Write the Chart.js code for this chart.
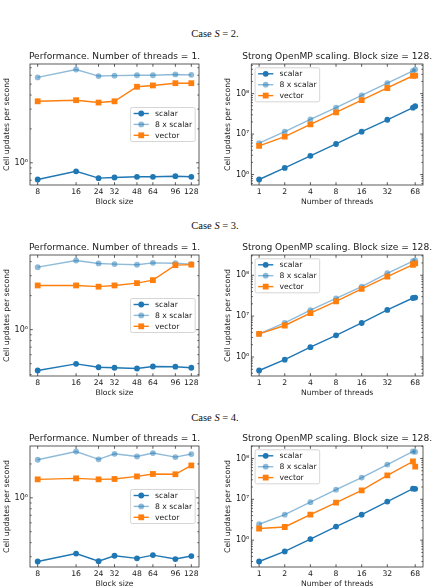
<!DOCTYPE html>
<html lang="en">
<head>
<meta charset="UTF-8">
<title>Cell updates per second</title>
<script src="https://cdn.jsdelivr.net/npm/chart.js"></script>
<style>
  body { margin: 0; background: #fff; width: 439px; height: 588px; position: relative; overflow: hidden; }
  .case { position: absolute; left: 0; width: 430px; height: 12px; line-height: 12px; text-align: center;
          font: 10.5px "Liberation Serif", "DejaVu Serif", serif; color: #111; }
  canvas { position: absolute; }
</style>
</head>
<body>
<script>
// x values
const blockSizes   = [8, 16, 24, 32, 48, 64, 96, 128];
const threadCounts = [1, 2, 4, 8, 16, 32, 64, 68];
// tick labels
const blockTicks  = [8, 16, 24, 32, 48, 64, 96, 128];
const threadTicks = [1, 2, 4, 8, 16, 32, 68];
const seriesLabels = ['scalar', '8 x scalar', 'vector'];
const caseLabels = ['2', '3', '4'];

// Case S = 2
const s2BlockScalar   = [7.1e5, 8.4e5, 7.3e5, 7.4e5, 7.5e5, 7.5e5, 7.6e5, 7.5e5];
const s2BlockScalar8  = [5.74e6, 6.75e6, 5.9e6, 5.95e6, 6.0e6, 6.0e6, 6.1e6, 6.05e6];
const s2BlockVector   = [3.52e6, 3.6e6, 3.43e6, 3.52e6, 4.74e6, 4.87e6, 5.1e6, 5.1e6];
const s2ThreadScalar  = [7.55e5, 1.46e6, 2.9e6, 5.7e6, 1.15e7, 2.26e7, 4.5e7, 4.9e7];
const s2ThreadScalar8 = [6.0e6, 1.15e7, 2.3e7, 4.5e7, 9.1e7, 1.82e8, 3.66e8, 3.95e8];
const s2ThreadVector  = [5.1e6, 8.7e6, 1.74e7, 3.43e7, 6.9e7, 1.38e8, 2.76e8, 2.8e8];

// Case S = 3
const s3BlockScalar   = [4.35e5, 4.98e5, 4.65e5, 4.6e5, 4.53e5, 4.72e5, 4.7e5, 4.6e5];
const s3BlockScalar8  = [3.57e6, 4.09e6, 3.85e6, 3.8e6, 3.75e6, 3.9e6, 3.87e6, 3.8e6];
const s3BlockVector   = [2.46e6, 2.46e6, 2.4e6, 2.46e6, 2.58e6, 2.74e6, 3.72e6, 3.76e6];
const s3ThreadScalar  = [4.67e5, 8.6e5, 1.74e6, 3.4e6, 6.8e6, 1.42e7, 2.78e7, 2.85e7];
const s3ThreadScalar8 = [3.7e6, 6.85e6, 1.4e7, 2.72e7, 5.3e7, 1.12e8, 2.22e8, 2.3e8];
const s3ThreadVector  = [3.67e6, 5.9e6, 1.18e7, 2.3e7, 4.67e7, 9.3e7, 1.81e8, 1.95e8];

// Case S = 4
const s4BlockScalar   = [2.72e5, 3.2e5, 2.74e5, 3.06e5, 2.9e5, 3.1e5, 2.86e5, 3.04e5];
const s4BlockScalar8  = [2.18e6, 2.58e6, 2.2e6, 2.46e6, 2.33e6, 2.5e6, 2.3e6, 2.45e6];
const s4BlockVector   = [1.46e6, 1.49e6, 1.46e6, 1.47e6, 1.55e6, 1.63e6, 1.62e6, 1.94e6];
const s4ThreadScalar  = [3.0e5, 5.3e5, 1.06e6, 2.15e6, 4.2e6, 8.8e6, 1.82e7, 1.8e7];
const s4ThreadScalar8 = [2.45e6, 4.2e6, 8.5e6, 1.72e7, 3.4e7, 7.1e7, 1.48e8, 1.45e8];
const s4ThreadVector  = [1.93e6, 2.1e6, 4.2e6, 8.3e6, 1.66e7, 3.85e7, 8.45e7, 6.3e7];

const blockRows  = [[s2BlockScalar, s2BlockScalar8, s2BlockVector],
                    [s3BlockScalar, s3BlockScalar8, s3BlockVector],
                    [s4BlockScalar, s4BlockScalar8, s4BlockVector]];
const threadRows = [[s2ThreadScalar, s2ThreadScalar8, s2ThreadVector],
                    [s3ThreadScalar, s3ThreadScalar8, s3ThreadVector],
                    [s4ThreadScalar, s4ThreadScalar8, s4ThreadVector]];

const FONT = '"DejaVu Sans", sans-serif';
const INK = '#1a1a1a';
const styles = [
  { color: '#1f77b4', point: 'circle', radius: 2.9 },
  { color: 'rgba(31,119,180,0.5)', point: 'circle', radius: 2.9 },
  { color: '#ff7f0e', point: 'rect', radius: 4.1 }
];
const SUP = { 5: '\u2075', 6: '\u2076', 7: '\u2077', 8: '\u2078', 9: '\u2079' };

function isDecade(v) {
  const l = Math.log10(v);
  return Math.abs(l - Math.round(l)) < 1e-9;
}

// matplotlib-like 5% margins in log space
function logLimits(values) {
  const lo = Math.log10(Math.min(...values)), hi = Math.log10(Math.max(...values));
  const m = (hi - lo) * 0.05;
  return { min: Math.pow(10, lo - m), max: Math.pow(10, hi + m) };
}

function drawMarker(ctx, style, x, y) {
  ctx.beginPath();
  if (style === 'rect') {
    const s = 2.9;
    ctx.rect(x - s, y - s, 2 * s, 2 * s);
  } else {
    ctx.arc(x, y, 2.9, 0, Math.PI * 2);
  }
  ctx.fill();
}

// spines and inward ticks on all four sides
const frameTicks = {
  id: 'frameTicks',
  afterDatasetsDraw(chart) {
    const { ctx, chartArea: a, scales: { x, y } } = chart;
    ctx.save();
    ctx.strokeStyle = '#333';
    ctx.lineWidth = 0.8;
    ctx.beginPath();
    x.ticks.forEach(t => {
      const px = x.getPixelForValue(t.value);
      ctx.moveTo(px, a.bottom); ctx.lineTo(px, a.bottom - 2.8);
      ctx.moveTo(px, a.top); ctx.lineTo(px, a.top + 2.8);
    });
    y.ticks.forEach(t => {
      const py = y.getPixelForValue(t.value);
      const len = isDecade(t.value) ? 2.8 : 1.6;
      ctx.moveTo(a.left, py); ctx.lineTo(a.left + len, py);
      ctx.moveTo(a.right, py); ctx.lineTo(a.right - len, py);
    });
    ctx.stroke();
    ctx.strokeRect(a.left, a.top, a.right - a.left, a.bottom - a.top);
    ctx.restore();
  }
};

// subplot title centred over the axes box
const subTitle = {
  id: 'subTitle',
  afterDraw(chart, args, opts) {
    const { ctx, chartArea: a } = chart;
    ctx.save();
    ctx.font = '9.1px ' + FONT;
    ctx.fillStyle = INK;
    ctx.textAlign = 'center';
    ctx.textBaseline = 'middle';
    ctx.fillText(opts.text, (a.left + a.right) / 2, a.top - 7.8);
    ctx.restore();
  }
};

// legend drawn inside the axes
const innerLegend = {
  id: 'innerLegend',
  afterDraw(chart, args, opts) {
    const { ctx, chartArea: a } = chart;
    ctx.save();
    ctx.font = '7.7px ' + FONT;
    const textW = Math.max(...seriesLabels.map(s => ctx.measureText(s).width));
    const w = 3 + 15.2 + 6.1 + textW + 3, h = 34;
    const left = opts.loc === 'upper left' ? a.left + 3.8 : a.right - 3.8 - w;
    const top = opts.loc === 'upper left' ? a.top + 3.8 : (a.top + a.bottom) / 2 - h / 2;
    ctx.fillStyle = 'rgba(255,255,255,0.8)';
    ctx.strokeStyle = '#cccccc';
    ctx.lineWidth = 0.8;
    ctx.beginPath();
    ctx.roundRect(left, top, w, h, 1.6);
    ctx.fill();
    ctx.stroke();
    seriesLabels.forEach((label, i) => {
      const cy = top + 6 + i * 10.9;
      const x0 = left + 3, x1 = x0 + 15.2;
      ctx.strokeStyle = styles[i].color;
      ctx.fillStyle = styles[i].color;
      ctx.lineWidth = 1.4;
      ctx.beginPath();
      ctx.moveTo(x0, cy); ctx.lineTo(x1, cy);
      ctx.stroke();
      drawMarker(ctx, styles[i].point, (x0 + x1) / 2, cy);
      ctx.fillStyle = INK;
      ctx.textAlign = 'left';
      ctx.textBaseline = 'middle';
      ctx.fillText(label, x1 + 6.1, cy + 0.3);
    });
    ctx.restore();
  }
};

function makeChart(canvas, cfg) {
  const lim = logLimits(cfg.series.flat());
  const xl = Math.log2(cfg.xs[0]), xh = Math.log2(cfg.xs[cfg.xs.length - 1]);
  const xm = (xh - xl) * 0.05;
  const tickFont = { family: FONT, size: 7.7 };
  return new Chart(canvas, {
    type: 'line',
    data: {
      datasets: cfg.series.map((ys, i) => ({
        label: seriesLabels[i],
        data: cfg.xs.map((x, j) => ({ x, y: ys[j] })),
        borderColor: styles[i].color,
        backgroundColor: styles[i].color,
        borderWidth: 1.4,
        pointStyle: styles[i].point,
        pointRadius: styles[i].radius,
        pointBorderWidth: 0,
        tension: 0,
        order: 3 - i
      }))
    },
    options: {
      responsive: false,
      animation: false,
      events: [],
      layout: { padding: { top: 20, right: cfg.padRight, bottom: 0, left: 0 } },
      plugins: {
        legend: { display: false },
        tooltip: { enabled: false },
        subTitle: { text: cfg.title },
        innerLegend: { loc: cfg.legendLoc }
      },
      scales: {
        x: {
          type: 'logarithmic',
          min: Math.pow(2, xl - xm),
          max: Math.pow(2, xh + xm),
          grid: { display: false, drawTicks: false },
          border: { display: false },
          afterBuildTicks: s => { s.ticks = cfg.xTicks.map(v => ({ value: v })); },
          afterFit: s => { s.height = 25; },
          ticks: { callback: v => String(v), font: tickFont, color: INK, padding: 2.5,
                   autoSkip: false, maxRotation: 0 },
          title: { display: true, text: cfg.xTitle, font: tickFont, color: INK,
                   padding: { top: 0, bottom: 3.4 } }
        },
        y: {
          type: 'logarithmic',
          min: lim.min,
          max: lim.max,
          grid: { display: false, drawTicks: false },
          border: { display: false },
          afterBuildTicks: s => {
            const ticks = [];
            for (let e = Math.floor(Math.log10(lim.min)); e <= Math.ceil(Math.log10(lim.max)); e++) {
              for (let k = 1; k < 10; k++) {
                const v = k * Math.pow(10, e);
                if (v >= lim.min && v <= lim.max) ticks.push({ value: v });
              }
            }
            s.ticks = ticks;
          },
          afterFit: s => { s.width = cfg.yWidth; },
          ticks: {
            callback: v => isDecade(v) ? '10' + SUP[Math.round(Math.log10(v))] : '',
            font: { family: FONT, size: 8 }, color: INK, padding: 2, autoSkip: false
          },
          title: { display: true, text: 'Cell updates per second', font: tickFont, color: INK,
                   padding: { top: cfg.yTitlePad, bottom: 0 } }
        }
      }
    },
    plugins: [frameTicks, subTitle, innerLegend]
  });
}

caseLabels.forEach((label, r) => {
  const head = document.createElement('div');
  head.className = 'case';
  head.style.top = (28 + 192 * r) + 'px';
  head.innerHTML = 'Case <i>S</i> = ' + label + '.';
  document.body.appendChild(head);

  const top = 44 + 191 * r;
  const c1 = document.createElement('canvas');
  c1.width = 219; c1.height = 166;
  c1.style.left = '0px'; c1.style.top = top + 'px';
  document.body.appendChild(c1);
  makeChart(c1, {
    xs: blockSizes, xTicks: blockTicks, series: blockRows[r],
    title: 'Performance. Number of threads = 1.', xTitle: 'Block size',
    legendLoc: 'center right', padRight: 20, yWidth: 30, yTitlePad: 2.2
  });

  const c2 = document.createElement('canvas');
  c2.width = 220; c2.height = 166;
  c2.style.left = '219px'; c2.style.top = top + 'px';
  document.body.appendChild(c2);
  makeChart(c2, {
    xs: threadCounts, xTicks: threadTicks, series: threadRows[r],
    title: 'Strong OpenMP scaling. Block size = 128.', xTitle: 'Number of threads',
    legendLoc: 'upper left', padRight: 16, yWidth: 32.3, yTitlePad: 4.6
  });
});
</script>
</body>
</html>
